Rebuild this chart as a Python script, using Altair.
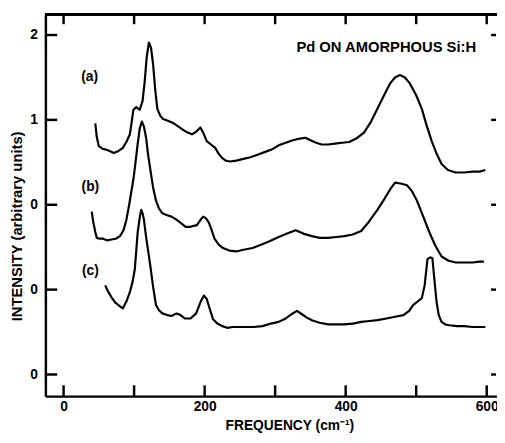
import altair as alt
import pandas as pd

# ---- data ----
a_x = [45, 47, 50, 55, 60, 66, 71, 77, 84, 89, 94, 97, 99, 103, 106, 108, 112, 115, 118, 121, 124, 127, 130, 133,
       137, 141, 148, 156, 163, 170, 176, 182, 188, 194, 198, 203, 209, 215, 220, 225, 230, 236, 245, 255, 265,
       275, 285, 295, 305, 315, 325, 335, 343, 350, 358, 366, 375, 385, 395, 405, 415, 426, 436, 445, 455, 463,
       470, 477, 484, 491, 500, 508, 515, 522, 529, 536, 545, 556, 568, 580, 590, 598]
a_y = [2.96, 2.80, 2.69, 2.66, 2.65, 2.63, 2.61, 2.63, 2.67, 2.74, 2.83, 3.00, 3.12, 3.15, 3.13, 3.12, 3.22, 3.45,
       3.75, 3.91, 3.85, 3.65, 3.35, 3.13, 3.05, 3.01, 2.99, 2.96, 2.92, 2.88, 2.85, 2.83, 2.86, 2.91, 2.85, 2.75,
       2.71, 2.67, 2.60, 2.55, 2.52, 2.51, 2.52, 2.54, 2.56, 2.59, 2.62, 2.65, 2.70, 2.73, 2.76, 2.78, 2.79, 2.76,
       2.73, 2.71, 2.71, 2.72, 2.73, 2.74, 2.78, 2.85, 2.98, 3.13, 3.30, 3.43, 3.50, 3.53, 3.50, 3.43, 3.29, 3.13,
       2.93, 2.75, 2.60, 2.48, 2.41, 2.38, 2.38, 2.39, 2.39, 2.41]

b_x = [40, 42, 45, 47, 51, 56, 62, 68, 74, 80, 85, 89, 93, 96, 99, 102, 105, 108, 111, 114, 117, 120, 124, 127,
       131, 135, 140, 146, 153, 161, 167, 173, 180, 189, 194, 198, 202, 206, 210, 214, 220, 226, 235, 245, 255,
       268, 280, 292, 305, 317, 329, 340, 352, 363, 375, 387, 398, 410, 422, 433, 445, 455, 463, 470, 478, 487,
       494, 501, 510, 519, 527, 536, 546, 556, 568, 580, 590, 596]
b_y = [1.92, 1.80, 1.68, 1.61, 1.60, 1.60, 1.58, 1.59, 1.60, 1.63, 1.70, 1.82, 2.00, 2.15, 2.30, 2.50, 2.71, 2.90,
       2.98, 2.92, 2.79, 2.58, 2.36, 2.20, 2.05, 1.96, 1.90, 1.88, 1.86, 1.82, 1.78, 1.74, 1.74, 1.76, 1.82, 1.86,
       1.84, 1.79, 1.70, 1.60, 1.53, 1.49, 1.46, 1.45, 1.47, 1.49, 1.53, 1.57, 1.62, 1.66, 1.70, 1.66, 1.63, 1.61,
       1.61, 1.62, 1.63, 1.65, 1.69, 1.80, 1.94, 2.07, 2.18, 2.26, 2.25, 2.23, 2.16, 2.05, 1.86, 1.67, 1.52, 1.39,
       1.34, 1.32, 1.32, 1.32, 1.33, 1.33]

c_x = [59, 63, 68, 73, 79, 84, 89, 94, 98, 101, 103, 105, 108, 110, 112, 114, 117, 120, 123, 127, 131, 135, 140,
       147, 153, 160, 166, 172, 180, 188, 195, 199, 203, 207, 212, 218, 225, 232, 240, 250, 259, 270, 282, 294,
       305, 315, 323, 331, 338, 345, 352, 363, 375, 387, 398, 410, 422, 434, 445, 458, 470, 482, 490, 496, 502,
       508, 512, 516, 520, 523, 526, 529, 532, 536, 541, 547, 558, 568, 580, 590, 598]
c_y = [1.05, 0.98, 0.91, 0.85, 0.81, 0.78, 0.86, 0.97, 1.10, 1.24, 1.45, 1.67, 1.85, 1.94, 1.90, 1.82, 1.62, 1.45,
       1.28, 1.03, 0.82, 0.76, 0.72, 0.70, 0.69, 0.72, 0.70, 0.66, 0.66, 0.72, 0.87, 0.93, 0.89, 0.78, 0.65, 0.60,
       0.57, 0.55, 0.56, 0.56, 0.56, 0.56, 0.57, 0.60, 0.62, 0.66, 0.71, 0.75, 0.71, 0.67, 0.64, 0.61, 0.59, 0.59,
       0.59, 0.60, 0.62, 0.63, 0.64, 0.66, 0.68, 0.70, 0.75, 0.82, 0.86, 0.90, 1.05, 1.36, 1.38, 1.37, 1.10, 0.85,
       0.70, 0.62, 0.59, 0.58, 0.57, 0.57, 0.56, 0.56, 0.56]

series_labels = ["(a)", "(b)", "(c)"]
series_label_x = [37, 38, 38]
series_label_y = [3.50, 2.21, 1.22]

title_text = ["Pd ON AMORPHOUS Si:H"]
title_x = [585]
title_y = [3.86]

x_tick_values = [0, 100, 200, 300, 400, 500, 600]
x_label_values = [0, 200, 400, 600]
y_tick_values = [0, 1, 2, 3, 4]
y_tick_labels = ["0", "0", "0", "1", "2"]

# ---- layout ----
W, H = 459, 388
X_DOMAIN = [-25.8, 614.6]
Y_DOMAIN = [-0.255, 4.243]
FONT = "Liberation Sans"

curves = pd.concat([
    pd.DataFrame({"x": a_x, "y": a_y, "s": "a"}),
    pd.DataFrame({"x": b_x, "y": b_y, "s": "b"}),
    pd.DataFrame({"x": c_x, "y": c_y, "s": "c"}),
], ignore_index=True)

label_expr = " : ".join(
    f"datum.value == {v} ? '{t}'" for v, t in zip(y_tick_values, y_tick_labels)
) + " : ''"

xs = alt.Scale(domain=X_DOMAIN, nice=False, zero=False)
ys = alt.Scale(domain=Y_DOMAIN, nice=False, zero=False)

x_axis = alt.Axis(values=x_label_values, ticks=False, grid=False, domain=True, domainColor="black",
                  domainWidth=2.5, labelFont=FONT, labelFontWeight="bold", labelFontSize=14,
                  labelColor="black", labelPadding=4, labelFlush=False,
                  title="FREQUENCY (cm⁻¹)", titleFont=FONT, titleFontWeight="bold", titleFontSize=14,
                  titleColor="black", titleX=248, titleY=30, titleBaseline="middle", titleAlign="center")
y_axis = alt.Axis(values=y_tick_values, labelExpr=label_expr, ticks=False, grid=False, domain=True,
                  domainColor="black", domainWidth=2.5, labelFont=FONT, labelFontWeight="bold",
                  labelFontSize=14, labelColor="black", labelPadding=8, labelBaseline="middle",
                  title="INTENSITY (arbitrary units)", titleFont=FONT, titleFontWeight="bold",
                  titleFontSize=15, titleColor="black", titleX=-29, titleY=215, titleBaseline="middle",
                  titleAlign="center", titleAngle=270)

lines = alt.Chart(curves).mark_line(color="black", strokeWidth=2.2, strokeJoin="round").encode(
    x=alt.X("x:Q", scale=xs, axis=x_axis),
    y=alt.Y("y:Q", scale=ys, axis=y_axis),
    detail="s:N",
)

xt = pd.DataFrame({"x": x_tick_values})
yt = pd.DataFrame({"y": y_tick_values})

bottom_ticks = alt.Chart(xt).mark_rule(color="black", strokeWidth=2.5).encode(
    x=alt.X("x:Q", scale=xs), y=alt.value(H), y2=alt.value(H - 11))
top_ticks = alt.Chart(xt).mark_rule(color="black", strokeWidth=2.5).encode(
    x=alt.X("x:Q", scale=xs), y=alt.value(0), y2=alt.value(10))
left_ticks = alt.Chart(yt).mark_rule(color="black", strokeWidth=2.5).encode(
    y=alt.Y("y:Q", scale=ys), x=alt.value(0), x2=alt.value(12))
right_ticks = alt.Chart(yt).mark_rule(color="black", strokeWidth=2.5).encode(
    y=alt.Y("y:Q", scale=ys), x=alt.value(W - 6), x2=alt.value(W - 1))
top_line = alt.Chart(xt).mark_rule(color="black", strokeWidth=2.5).encode(
    x=alt.value(0), x2=alt.value(W), y=alt.value(0))

lab_df = pd.DataFrame({"t": series_labels, "x": series_label_x, "y": series_label_y})
labels = alt.Chart(lab_df).mark_text(font=FONT, fontWeight="bold", fontSize=14, color="black",
                                     align="center", baseline="middle").encode(
    x=alt.X("x:Q", scale=xs), y=alt.Y("y:Q", scale=ys), text="t:N")

ttl_df = pd.DataFrame({"t": title_text, "x": title_x, "y": title_y})
ttl = alt.Chart(ttl_df).mark_text(font=FONT, fontWeight="bold", fontSize=15, color="black",
                                  align="right", baseline="middle").encode(
    x=alt.X("x:Q", scale=xs), y=alt.Y("y:Q", scale=ys), text="t:N")

chart = alt.layer(lines, bottom_ticks, top_ticks, left_ticks, right_ticks, top_line, labels, ttl).properties(
    width=W, height=H,
    autosize=alt.AutoSizeParams(type="none"),
    padding={"left": 38, "top": 3, "right": 0, "bottom": 36},
    background="white",
).configure_view(stroke=None)

chart.save("out.html", embed_options={"renderer": "svg", "actions": False})
